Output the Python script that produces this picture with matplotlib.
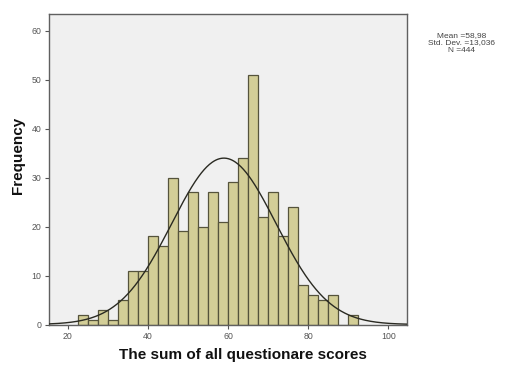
import numpy as np
import matplotlib
matplotlib.use("Agg")
import matplotlib.pyplot as plt

# Data: histogram bins (left edges) and frequencies
bin_width = 2.5
bin_lefts = [22.5, 25, 27.5, 30, 32.5, 35, 37.5, 40, 42.5, 45, 47.5, 50, 52.5, 55,
             57.5, 60, 62.5, 65, 67.5, 70, 72.5, 75, 77.5, 80, 82.5, 85, 87.5, 90]
freqs = [2, 1, 3, 1, 5, 11, 11, 18, 16, 30, 19, 27, 20, 27,
         21, 29, 34, 51, 22, 27, 18, 24, 8, 6, 5, 6, 0, 2]
mean_val = 58.98
std_val = 13.036
n_val = 444
x_ticks = [20, 40, 60, 80, 100]
y_ticks = [0, 10, 20, 30, 40, 50, 60]

plt.rcParams['font.family'] = ['Liberation Sans', 'DejaVu Sans']

fig = plt.figure(figsize=(5.07, 3.67), dpi=100)
ax = fig.add_axes([0.0966, 0.1158, 0.802 - 0.0966, 0.9619 - 0.1158])
ax.set_facecolor('#f0f0f0')

ax.bar(bin_lefts, freqs, width=bin_width, align='edge', color='#d3ce97',
       edgecolor='#55533c', linewidth=0.9, zorder=2)

xs = np.linspace(15.3, 104.6, 400)
ys = n_val * bin_width / (std_val * np.sqrt(2 * np.pi)) * np.exp(-0.5 * ((xs - mean_val) / std_val) ** 2)
ax.plot(xs, ys, color='#2a2a22', linewidth=1.0, zorder=3)

ax.set_xlim(15.3, 104.6)
ax.set_ylim(0, 63.4)
ax.set_xticks(x_ticks)
ax.set_yticks(y_ticks)
ax.tick_params(axis='both', labelsize=6.3, colors='#555555', length=3, width=0.8, pad=2.5)
for s in ax.spines.values():
    s.set_color('#606060')
    s.set_linewidth(1.0)

fig.text(243 / 507, 1 - 355 / 367, 'The sum of all questionare scores', ha='center', va='center',
         fontsize=11, fontweight='bold', color='#111111')
fig.text(18 / 507, 1 - 155 / 367, 'Frequency', ha='center', va='center', rotation=90,
         fontsize=11, fontweight='bold', color='#111111')
fig.text(462 / 507, 1 - 43 / 367,
         'Mean =58,98\nStd. Dev. =13,036\nN =444', ha='center', va='center',
         fontsize=6, color='#444444', linespacing=1.1)

fig.savefig('out.png', dpi=100)
